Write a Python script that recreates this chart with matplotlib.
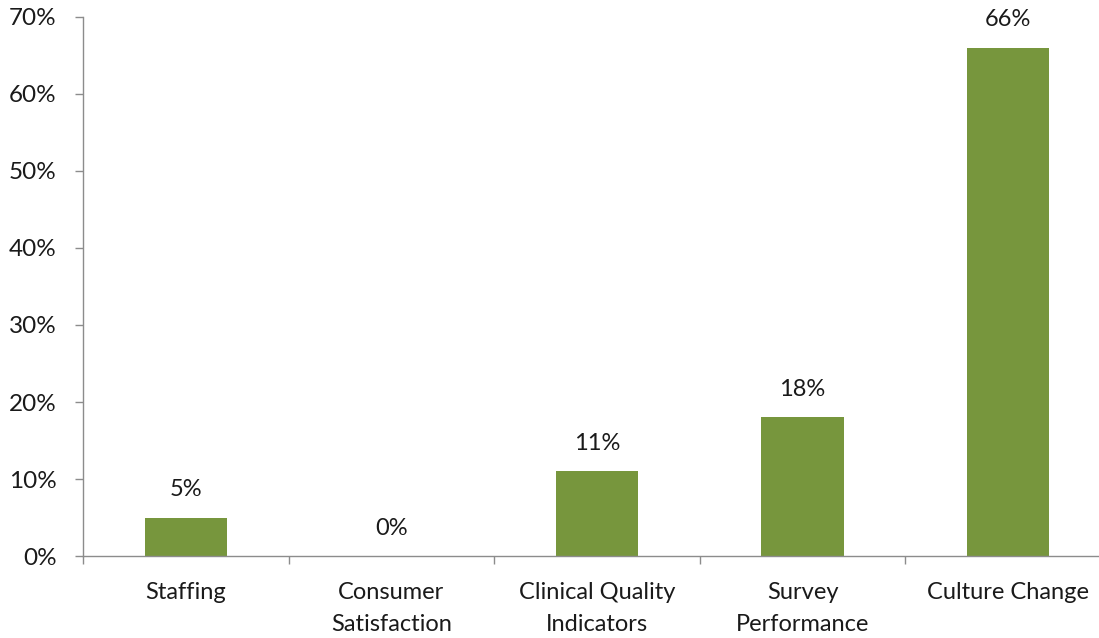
import matplotlib
matplotlib.use("Agg")
import matplotlib.pyplot as plt
from matplotlib.ticker import FixedLocator, PercentFormatter

categories = ["Staffing", "Consumer\nSatisfaction", "Clinical Quality\nIndicators",
              "Survey\nPerformance", "Culture Change"]
values = [5, 0, 11, 18, 66]
y_ticks = [0, 10, 20, 30, 40, 50, 60, 70]

bar_color = "#77963D"
axis_color = "#8C8C8C"
text_color = "#1A1A1A"

plt.rcParams["font.family"] = ["Lato", "DejaVu Sans"]

fig = plt.figure(figsize=(10.99, 6.38), dpi=100)
ax = fig.add_axes([0.0755, 0.1285, 0.9354, 0.8449])

x = list(range(len(categories)))
ax.bar(x, values, width=0.4, color=bar_color, zorder=2)

for xi, v in zip(x, values):
    ax.annotate(f"{v}%", (xi, v), xytext=(0, 20), textcoords="offset points",
                ha="center", va="center", fontsize=17, color=text_color)

ax.set_xlim(-0.5, len(categories) - 0.5)
ax.set_ylim(0, 70)
ax.set_yticks(y_ticks)
ax.yaxis.set_major_formatter(PercentFormatter(decimals=0))

ax.set_xticks(x)
ax.set_xticklabels(categories, fontsize=17, color=text_color, linespacing=1.6)
ax.xaxis.set_minor_locator(FixedLocator([i - 0.5 for i in range(len(categories) + 1)]))
ax.tick_params(axis="x", which="major", length=0, pad=19)
ax.tick_params(axis="x", which="minor", length=6, width=1, color=axis_color, direction="out")
ax.tick_params(axis="y", length=6, width=1, color=axis_color, direction="out",
               labelsize=17.5, labelcolor=text_color, pad=13)

for side in ("top", "right"):
    ax.spines[side].set_visible(False)
for side in ("left", "bottom"):
    ax.spines[side].set_color(axis_color)
    ax.spines[side].set_linewidth(1)

fig.savefig("out.png", dpi=100, facecolor="white")
